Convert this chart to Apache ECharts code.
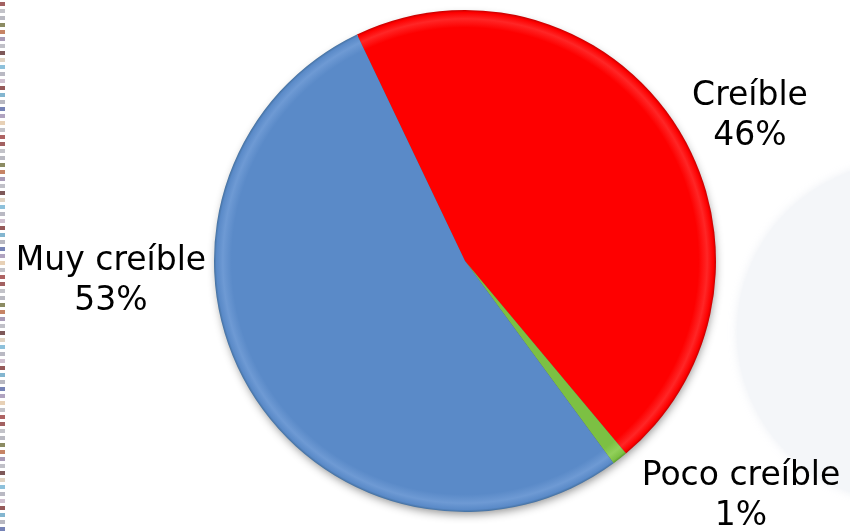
<!DOCTYPE html>
<html>
<head>
<meta charset="utf-8">
<script src="https://cdn.jsdelivr.net/npm/echarts@6/dist/echarts.min.js"></script>
<style>
  html, body { margin: 0; padding: 0; background: #ffffff; }
  #chart { width: 850px; height: 532px; }
</style>
</head>
<body>
<div id="chart"></div>
<script>
// Survey answers: how credible the source is considered
const categories = ['Creíble', 'Poco creíble', 'Muy creíble'];
const shares = [46, 1, 53];

// Slice palettes: base tone, rim highlight, rim shadow
const palettes = [
  ['#fe0000', '#ff2626', '#c40000'],
  ['#7cc043', '#92d05a', '#5a9a2a'],
  ['#5a8ac8', '#6e9ad4', '#44709f']
];

const CX = 465, CY = 261, R = 251;

function bevelFill(p) {
  return {
    type: 'radial', x: CX, y: CY, r: R, global: true,
    colorStops: [
      { offset: 0, color: p[0] },
      { offset: 0.93, color: p[0] },
      { offset: 0.965, color: p[1] },
      { offset: 0.99, color: p[0] },
      { offset: 1, color: p[2] }
    ]
  };
}

// Label anchors (centre of each two-line label)
const labelSpots = [
  [750, 116],
  [741, 496],
  [111, 281]
];

// Decorative dotted strip on the left margin
const stripColors = ['#8b3a3a', '#b4b4bc', '#a8a8b2', '#6f6f3c', '#b8653f', '#9483a6',
  '#b0b0ba', '#5e3030', '#d8c8b4', '#72b2d2', '#a8a8b4', '#c4b2c4', '#7a3030', '#64a4c4',
  '#a6a6b2', '#5464a4', '#9c8cb0', '#e2c6a4', '#b4b4bc', '#9a3c3c'];
const stripRects = [];
for (let i = 0, y = 2; y < 532; i++, y += 7) {
  stripRects.push({
    type: 'rect', silent: true, z: 1,
    shape: { x: 0, y: y, width: 5, height: 4 },
    style: { fill: stripColors[i % stripColors.length], opacity: 0.8 }
  });
}

const chart = echarts.init(document.getElementById('chart'), null, { renderer: 'canvas' });

chart.setOption({
  animation: false,
  backgroundColor: '#ffffff',
  graphic: [
    {
      type: 'circle', silent: true, z: 0,
      shape: { cx: 907, cy: 332, r: 170 },
      style: { fill: '#f4f6f9', shadowBlur: 10, shadowColor: 'rgba(230,234,240,0.8)' }
    },
    {
      type: 'circle', silent: true, z: 1,
      shape: { cx: CX, cy: CY, r: R - 2 },
      style: { fill: '#555555', shadowBlur: 10, shadowColor: 'rgba(0,0,0,0.45)', shadowOffsetX: 1, shadowOffsetY: 4 }
    }
  ].concat(stripRects),
  series: [{
    type: 'pie',
    z: 3,
    center: [CX, CY],
    radius: R,
    startAngle: 115.5,
    clockwise: true,
    avoidLabelOverlap: false,
    data: categories.map((name, i) => ({
      name: name,
      value: shares[i],
      itemStyle: { color: bevelFill(palettes[i]) }
    })),
    itemStyle: { borderWidth: 0 },
    label: {
      show: true,
      position: 'outside',
      formatter: '{b}\n{d}%',
      fontFamily: 'DejaVu Sans',
      fontSize: 33,
      lineHeight: 40,
      color: '#000000',
      align: 'center'
    },
    labelLine: { show: false },
    labelLayout: function (params) {
      const p = labelSpots[params.dataIndex];
      return { x: p[0], y: p[1], align: 'center', verticalAlign: 'middle' };
    },
    emphasis: { disabled: true }
  }]
});
</script>
</body>
</html>
